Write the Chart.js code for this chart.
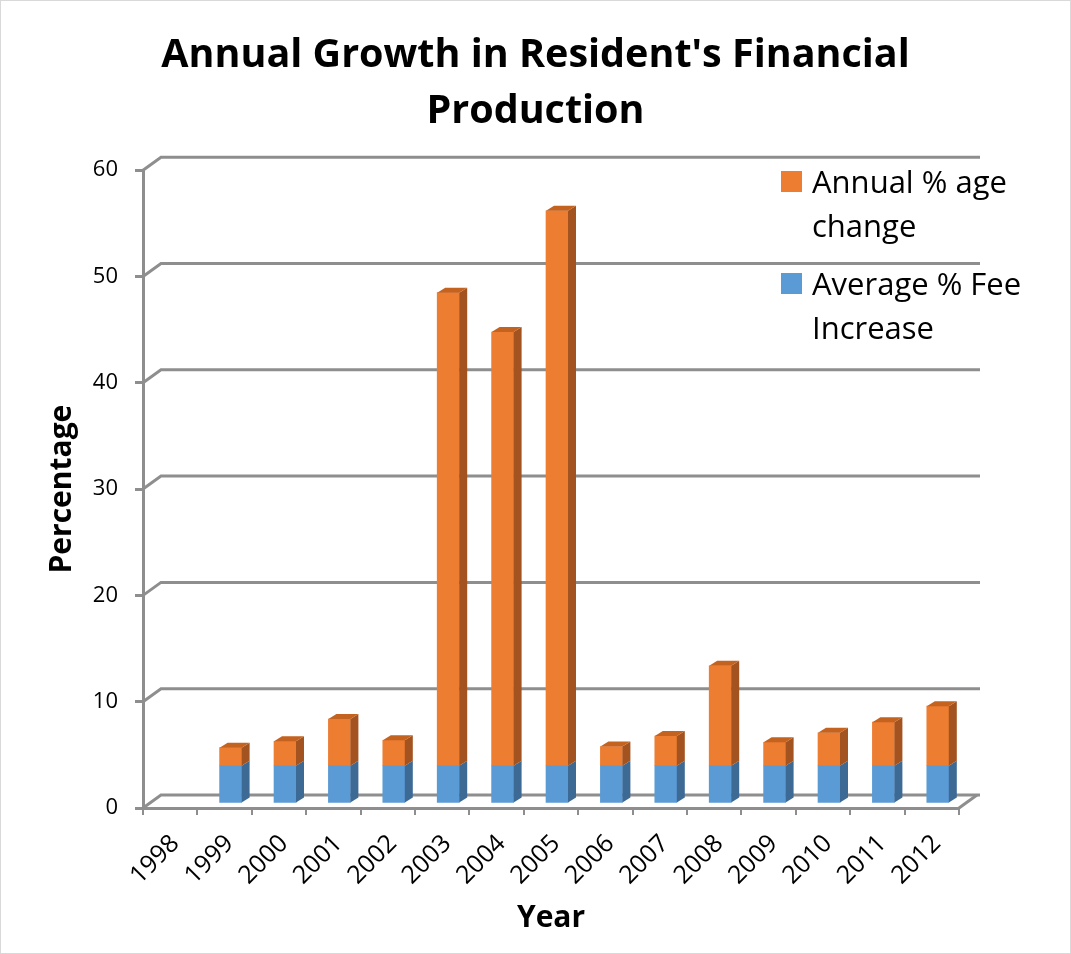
<!DOCTYPE html>
<html>
<head>
<meta charset="utf-8">
<title>Annual Growth in Resident's Financial Production</title>
<script src="https://cdn.jsdelivr.net/npm/chart.js"></script>
<style>
  body { margin: 0; background: #fff; }
  #wrap { position: relative; width: 1071px; height: 954px; }
  #legend { position: absolute; left: 781px; top: 159px; width: 280px; font-family: "Open Sans", sans-serif; font-size: 31px; line-height: 44px; color: #000; }
  #legend .item { position: relative; padding-left: 31px; margin-bottom: 14px; width: 250px; }
  #legend .box { position: absolute; left: 0; top: 12px; width: 21px; height: 21px; }
</style>
</head>
<body>
<div id="wrap">
  <canvas id="myChart" width="1071" height="954"></canvas>
  <div id="legend"></div>
</div>
<script>
// Chart data
const years = ['1998', '1999', '2000', '2001', '2002', '2003', '2004', '2005', '2006', '2007', '2008', '2009', '2010', '2011', '2012'];
const feeIncrease = [null, 3.6, 3.6, 3.6, 3.6, 3.6, 3.6, 3.6, 3.6, 3.6, 3.6, 3.6, 3.6, 3.6, 3.6];
const annualChange = [null, 1.7, 2.3, 4.4, 2.4, 44.5, 40.8, 52.2, 1.8, 2.8, 9.4, 2.2, 3.1, 4.1, 5.6];
const yTicks = [0, 10, 20, 30, 40, 50, 60];

// 3D look: depth of the back wall and of the bars
const wallDepth = { dx: 18, dy: 13 };
const barDepth = { dx: 8, dy: 5 };
const barShift = { dx: 6, dy: -4 };   // bars sit half way into the floor
const gridColor = '#8e8e8e';

Chart.defaults.font.family = '"Open Sans", sans-serif';
Chart.defaults.color = '#000';

// Back wall gridlines with the little diagonals on the left
const wallPlugin = {
    id: 'wall',
    beforeDatasetsDraw(chart) {
        const ctx = chart.ctx;
        const y = chart.scales.y;
        const area = chart.chartArea;
        ctx.save();
        ctx.strokeStyle = gridColor;
        ctx.lineWidth = 3;
        yTicks.forEach(v => {
            const py = y.getPixelForValue(v);
            ctx.beginPath();
            ctx.moveTo(area.left, py);
            ctx.lineTo(area.left + wallDepth.dx, py - wallDepth.dy);
            ctx.lineTo(area.right + wallDepth.dx + 3, py - wallDepth.dy);
            ctx.stroke();
        });
        // right edge of the floor
        const p0 = y.getPixelForValue(0);
        ctx.beginPath();
        ctx.moveTo(area.right, p0);
        ctx.lineTo(area.right + wallDepth.dx, p0 - wallDepth.dy);
        ctx.stroke();
        ctx.restore();
    }
};

// Side and top faces of the bars
const barSidesPlugin = {
    id: 'barSides',
    beforeDatasetsDraw(chart) {
        chart.ctx.save();
        chart.ctx.translate(barShift.dx, barShift.dy);
    },
    afterDatasetsDraw(chart) {
        const ctx = chart.ctx;
        chart.data.datasets.forEach((ds, i) => {
            const meta = chart.getDatasetMeta(i);
            meta.data.forEach((bar, j) => {
                if (ds.data[j] == null) return;
                const p = bar.getProps(['x', 'y', 'base', 'width'], true);
                const l = p.x - p.width / 2;
                const r = p.x + p.width / 2;
                ctx.fillStyle = ds.sideColor;
                ctx.beginPath();
                ctx.moveTo(r, p.y);
                ctx.lineTo(r + barDepth.dx, p.y - barDepth.dy);
                ctx.lineTo(r + barDepth.dx, p.base - barDepth.dy);
                ctx.lineTo(r, p.base);
                ctx.closePath();
                ctx.fill();
                if (ds.topColor) {
                    ctx.fillStyle = ds.topColor;
                    ctx.beginPath();
                    ctx.moveTo(l, p.y);
                    ctx.lineTo(l + barDepth.dx, p.y - barDepth.dy);
                    ctx.lineTo(r + barDepth.dx, p.y - barDepth.dy);
                    ctx.lineTo(r, p.y);
                    ctx.closePath();
                    ctx.fill();
                }
            });
        });
        ctx.restore();
    }
};

// Thin frame around the whole picture
const framePlugin = {
    id: 'frame',
    afterDraw(chart) {
        const ctx = chart.ctx;
        ctx.save();
        ctx.strokeStyle = '#d9d9d9';
        ctx.lineWidth = 1;
        ctx.strokeRect(0.5, 0.5, chart.width - 1, chart.height - 1);
        ctx.restore();
    }
};

const ctx = document.getElementById('myChart').getContext('2d');
const myChart = new Chart(ctx, {
    type: 'bar',
    data: {
        labels: years,
        datasets: [
            {
                label: 'Average % Fee Increase',
                data: feeIncrease,
                backgroundColor: '#5B9BD5',
                sideColor: '#3D6A94',
                topColor: null,
                barThickness: 22
            },
            {
                label: 'Annual % age change',
                data: annualChange,
                backgroundColor: '#ED7D31',
                sideColor: '#A3531F',
                topColor: '#C4621F',
                barThickness: 22
            }
        ]
    },
    options: {
        responsive: false,
        animation: false,
        layout: { padding: 0 },
        plugins: {
            legend: { display: false },
            tooltip: { enabled: false },
            title: {
                display: true,
                text: ["Annual Growth in Resident's Financial", 'Production'],
                font: { size: 39.5, weight: 'bold', lineHeight: 1.42 },
                padding: { top: 28, bottom: 30 }
            }
        },
        scales: {
            x: {
                stacked: true,
                grid: {
                    offset: true,
                    drawOnChartArea: false,
                    tickLength: 7,
                    color: gridColor,
                    lineWidth: 2
                },
                border: { color: gridColor, width: 3 },
                ticks: {
                    minRotation: 45,
                    maxRotation: 45,
                    padding: 14,
                    labelOffset: 5,
                    font: { size: 25 }
                },
                title: {
                    display: true,
                    text: 'Year',
                    font: { size: 30, weight: 'bold' },
                    padding: { top: 0, bottom: 18 }
                },
                afterFit(scale) { scale.height = 146; }
            },
            y: {
                stacked: true,
                min: 0,
                max: 60,
                ticks: {
                    stepSize: 10,
                    padding: 17,
                    font: { size: 22 }
                },
                grid: {
                    drawOnChartArea: false,
                    tickLength: 8,
                    color: gridColor,
                    lineWidth: 3
                },
                border: { color: gridColor, width: 3 },
                title: {
                    display: true,
                    text: 'Percentage',
                    font: { size: 30, weight: 'bold' },
                    padding: { top: 44, bottom: 0 }
                },
                afterFit(scale) { scale.width = 143; }
            },
            // empty axis that only keeps room on the right for the legend
            yRight: {
                type: 'linear',
                position: 'right',
                grid: { display: false },
                border: { display: false },
                ticks: { display: false },
                afterFit(scale) { scale.width = 112; }
            }
        }
    },
    plugins: [wallPlugin, barSidesPlugin, framePlugin]
});

// HTML legend, orange entry first as in the original
const legend = document.getElementById('legend');
myChart.data.datasets.slice().reverse().forEach(ds => {
    const item = document.createElement('div');
    item.className = 'item';
    const box = document.createElement('span');
    box.className = 'box';
    box.style.background = ds.backgroundColor;
    item.appendChild(box);
    item.appendChild(document.createTextNode(ds.label));
    legend.appendChild(item);
});
</script>
</body>
</html>
